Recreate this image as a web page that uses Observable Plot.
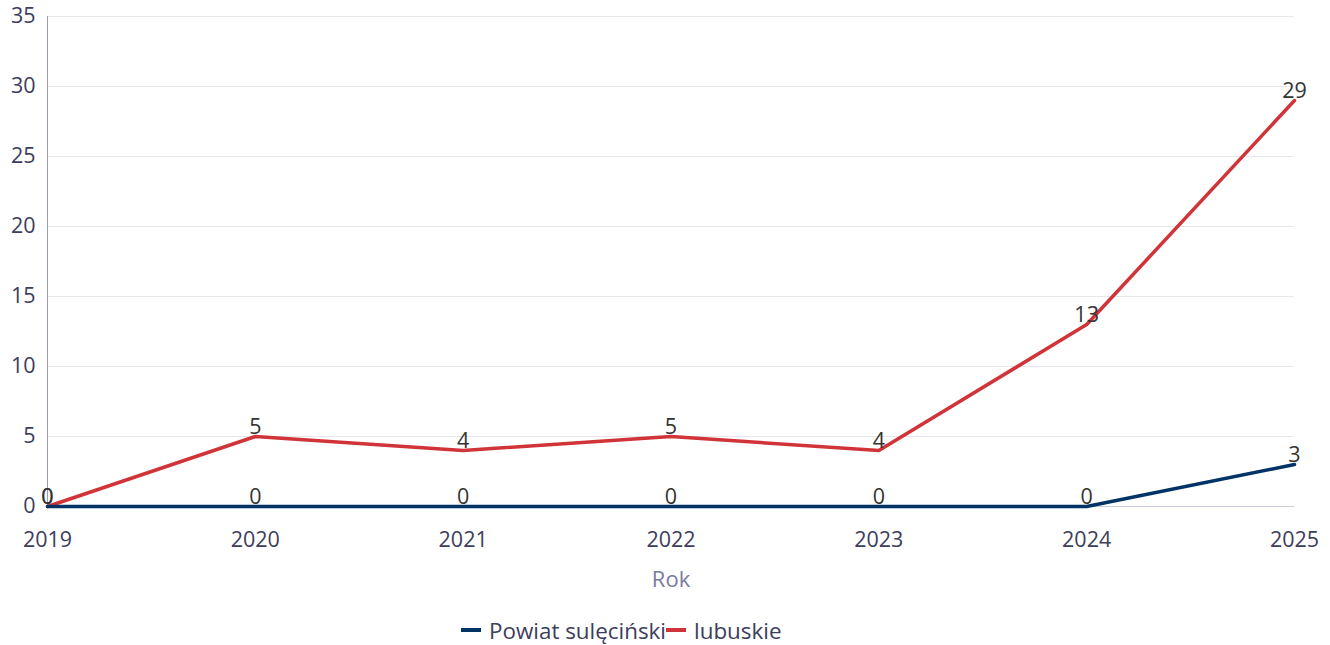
<!DOCTYPE html>
<html>
<head>
<meta charset="utf-8">
<script src="https://cdn.jsdelivr.net/npm/d3@7"></script>
<script src="https://cdn.jsdelivr.net/npm/@observablehq/plot@0.6"></script>
<style>
  html, body { margin: 0; padding: 0; background: #fff; }
  body { font-family: "Open Sans", sans-serif; width: 1330px; }
  #legend { display: flex; justify-content: flex-start; align-items: center; height: 34px; margin-top: 13px; padding-left: 461px; font-size: 22.4px; color: #3d3d5c; }
  .item { display: flex; align-items: center; }
  .sw { width: 20px; height: 4px; margin-right: 8px; }
</style>
</head>
<body>
<div id="chart"></div>
<div id="legend"></div>
<script>
const years = [2019, 2020, 2021, 2022, 2023, 2024, 2025];
const powiatSulecinski = [0, 0, 0, 0, 0, 0, 3];
const lubuskie = [0, 5, 4, 5, 4, 13, 29];
const seriesNames = ["Powiat sulęciński", "lubuskie"];
const seriesColors = ["#003366", "#d13438"];
const yTicks = [0, 5, 10, 15, 20, 25, 30, 35];
const xTitle = "Rok";

const data = [];
years.forEach((y, i) => {
  data.push({year: y, value: powiatSulecinski[i], series: seriesNames[0]});
});
years.forEach((y, i) => {
  data.push({year: y, value: lubuskie[i], series: seriesNames[1]});
});

const chart = Plot.plot({
  width: 1330,
  height: 600,
  marginTop: 16,
  marginBottom: 94,
  marginLeft: 47,
  marginRight: 36,
  style: {fontFamily: "Open Sans, sans-serif", background: "#fff", fontSize: "21px"},
  x: {domain: [2019, 2025], ticks: years, tickFormat: d => String(d)},
  y: {domain: [0, 35], ticks: yTicks},
  color: {domain: seriesNames, range: seriesColors},
  marks: [
    Plot.gridY(yTicks.filter(t => t > 0), {stroke: "#e6e6ee", strokeOpacity: 1, strokeWidth: 1}),
    Plot.ruleY([0], {stroke: "#ccccdd"}),
    Plot.ruleX([2019], {stroke: "#9999bb", strokeWidth: 1}),
    Plot.axisY({ticks: yTicks, tickSize: 0, tickPadding: 12, fontSize: 21.5, fill: "#3d3d5c", label: null}),
    Plot.axisX({ticks: years, tickSize: 0, tickPadding: 25, fontSize: 21.5, fill: "#3d3d5c", tickFormat: d => String(d), label: null}),
    Plot.text([xTitle], {frameAnchor: "bottom", dy: 73, lineAnchor: "middle", text: d => d, fontSize: 22, fill: "#7a7aa0"}),
    Plot.line(data.filter(d => d.series === seriesNames[1]), {x: "year", y: "value", stroke: "series", strokeWidth: 3.5, curve: "linear"}),
    Plot.line(data.filter(d => d.series === seriesNames[0]), {x: "year", y: "value", stroke: "series", strokeWidth: 3.5, curve: "linear"}),
    Plot.text(data, {x: "year", y: "value", text: d => String(d.value), dy: -9, fontSize: 21.5, fill: "#333333", lineAnchor: "middle"})
  ]
});
document.getElementById("chart").appendChild(chart);

const legend = document.getElementById("legend");
seriesNames.forEach((n, i) => {
  const it = document.createElement("div");
  it.className = "item";
  const sw = document.createElement("div");
  sw.className = "sw";
  sw.style.background = seriesColors[i];
  const lb = document.createElement("span");
  lb.textContent = n;
  it.appendChild(sw);
  it.appendChild(lb);
  legend.appendChild(it);
});
</script>
</body>
</html>
